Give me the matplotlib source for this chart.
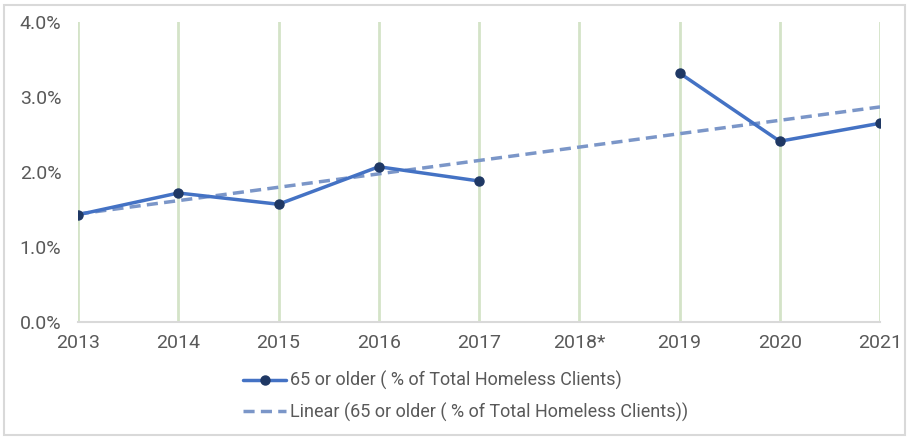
import numpy as np
import matplotlib
matplotlib.use("Agg")
import matplotlib.pyplot as plt
from matplotlib.patches import Rectangle
import matplotlib.ticker as ticker

years = ['2013', '2014', '2015', '2016', '2017', '2018*', '2019', '2020', '2021']
pct_65_older = [1.43, 1.72, 1.57, 2.07, 1.88, np.nan, 3.32, 2.41, 2.65]
y_ticks = [0.0, 1.0, 2.0, 3.0, 4.0]

plt.rcParams['font.family'] = ['Roboto', 'DejaVu Sans']

fig = plt.figure(figsize=(9.08, 4.37), dpi=100)
ax = fig.add_axes([78 / 908, 1 - 322 / 437, (880 - 78) / 908, 300 / 437])

x = np.arange(len(years))
vals = np.array(pct_65_older)

# linear trend like excel: fit on the available points only
ok = ~np.isnan(vals)
slope, icpt = np.polyfit(x[ok] + 1, vals[ok], 1)
trend = slope * (x + 1) + icpt

for xi in x:
    ax.axvline(xi, color='#d4e3c8', lw=2, zorder=0)

ax.plot(x, vals, color='#4472c4', lw=2.5, marker='o', ms=6.5,
        mfc='#1f3864', mec='#1f3864', solid_capstyle='round',
        label='65 or older ( % of Total Homeless Clients)', zorder=3)
ax.plot(x, trend, color='#7b96c8', lw=2.5, ls=(0, (3.2, 1.8)),
        label='Linear (65 or older ( % of Total Homeless Clients))', zorder=2)

ax.set_xlim(0, 8)
ax.set_ylim(0, 4)
ax.set_xticks(x)
ax.set_xticklabels(years)
ax.set_yticks(y_ticks)
ax.yaxis.set_major_formatter(ticker.FuncFormatter(lambda v, p: '%.1f%%' % v))
ax.tick_params(length=0, labelsize=14, colors='#595959')
ax.tick_params(axis='x', pad=9)
ax.tick_params(axis='y', pad=12)
for s in ['top', 'right', 'left']:
    ax.spines[s].set_visible(False)
ax.spines['bottom'].set_color('#d9d9d9')
ax.spines['bottom'].set_linewidth(1.5)

leg = fig.legend(loc='upper left', bbox_to_anchor=(243 / 908, 1 - 371 / 437),
                 frameon=False, fontsize=13, handlelength=2.4, handletextpad=0.2,
                 borderpad=0, borderaxespad=0, labelspacing=0.7)
for t in leg.get_texts():
    t.set_color('#595959')

fig.patches.append(Rectangle((4 / 908, 2 / 437), 901 / 908, 430 / 437,
                             transform=fig.transFigure, fill=False,
                             ec='#d9d9d9', lw=1.5))

fig.savefig('out.png', dpi=100)
